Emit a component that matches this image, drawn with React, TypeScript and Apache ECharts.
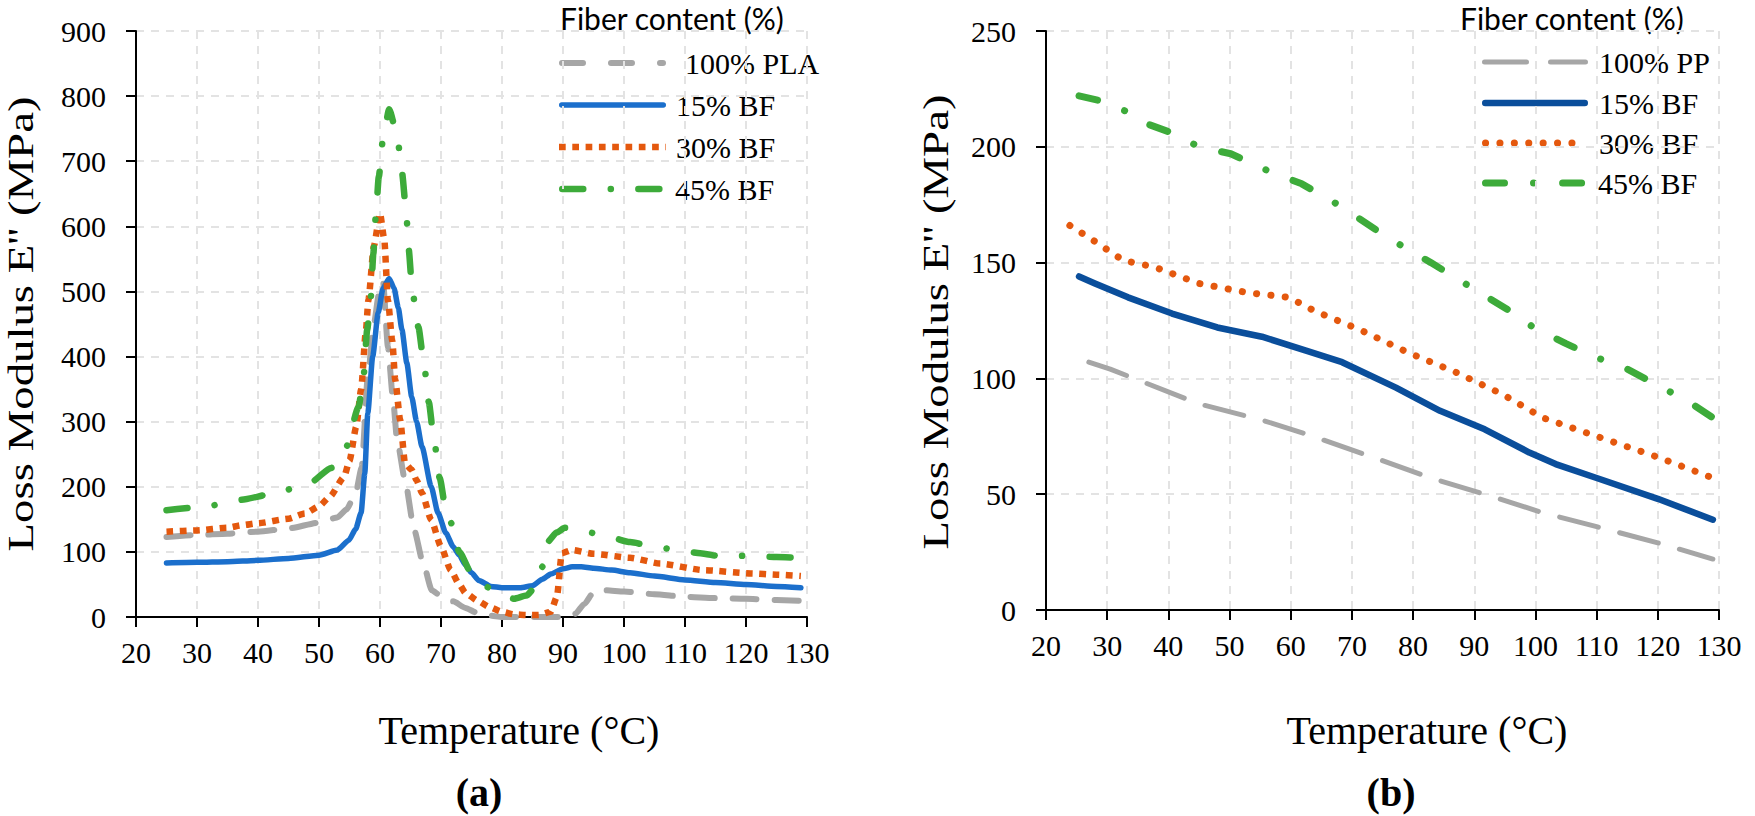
import React, { useEffect, useRef } from "react";
import * as echarts from "echarts";

// ---------- Chart (a): PLA composites ----------
const A_PLA_T = [25, 30, 35, 40, 45, 50, 53, 54.5, 56, 57, 58, 59, 59.8, 60.5, 61.3, 62.1, 62.8, 64.1, 65.6, 67, 68.5, 70, 72, 74, 76, 78, 80, 83, 86, 89, 90.5, 92, 93.5, 95, 97, 100, 105, 110, 115, 120, 125, 129];
const A_PLA_E = [123, 126, 128, 131, 136, 145, 153, 165, 190, 230, 369, 450, 495, 515, 415, 338, 272, 210, 134, 85, 41, 32, 24, 14, 6, 2, 0, 0, 0, 0, 0, 5, 20, 38, 41, 39, 35, 31, 29, 28, 26, 25];

const A_BF15_T = [25, 30, 35, 40, 45, 50, 53, 54.9, 56, 56.9, 57.5, 58, 58.8, 59.7, 60.5, 61.5, 62.3, 63, 63.6, 64.4, 65.2, 66, 66.9, 68.4, 69.5, 70.8, 72, 73, 74, 75, 76.2, 78.2, 80, 83, 85, 86.6, 88, 90, 91.5, 93, 95, 98, 101, 105, 110, 115, 120, 125, 129];
const A_BF15_E = [83, 84, 85, 87, 90, 95, 103, 118, 135, 160, 220, 313, 400, 467, 505, 520, 505, 475, 441, 390, 338, 300, 261, 200, 160, 129, 108, 95, 80, 68, 56, 47, 45, 45, 48, 58, 66, 74, 77, 77, 75, 72, 68, 63, 57, 53, 50, 47, 45];

const A_BF30_T = [25, 30, 35, 37.4, 40, 45, 47.7, 50, 51.8, 54.1, 55, 56.1, 56.9, 57.7, 58.1, 59, 60, 60.7, 61.3, 62, 62.5, 63.3, 64.1, 65.2, 66, 66.9, 68.4, 70, 71.6, 73, 74, 76, 78, 80, 82, 84, 86, 88, 89, 89.8, 91.5, 95, 101, 106, 113, 120.8, 125, 129];
const A_BF30_E = [131, 133, 137, 141, 144, 151, 159, 170, 185, 215, 240, 292, 349, 441, 487, 570, 620, 580, 487, 425, 364, 303, 236, 226, 210, 190, 149, 108, 72, 50, 37, 25, 15, 8, 4, 3, 3, 8, 31, 98, 103, 97, 91, 82, 72, 67, 65, 63];

const A_BF45_T = [25, 31, 37.2, 42.8, 48.5, 52, 54.4, 56.5, 57.3, 57.9, 58.5, 58.9, 59.3, 59.8, 60.5, 61.5, 62.8, 63.6, 64.3, 64.7, 65.3, 66.3, 67.2, 68, 68.8, 69.8, 70.7, 71.6, 73, 75, 77.9, 79.5, 82, 84, 86, 86.6, 87.4, 89, 90.3, 93.8, 97.5, 101, 105, 108.7, 112.5, 116, 120, 125, 129];
const A_BF45_E = [164, 169, 180, 190, 206, 229, 260, 323, 369, 441, 492, 557, 615, 676, 735, 780, 741, 683, 622, 565, 500, 445, 390, 330, 276, 213, 170, 145, 100, 67, 45, 38, 28, 33, 52, 77, 115, 130, 137, 131, 123, 115, 108, 103, 98, 93, 94, 92, 91];

// ---------- Chart (b): PP composites ----------
const B_PP_T = [27, 30.5, 36.3, 45, 55.3, 62.5, 73.4, 82.9, 91.7, 101.2, 110, 120, 129];
const B_PP_E = [107, 104, 98, 89, 82, 76, 66, 57, 50, 42, 36, 29, 22];

const B_BF15_T = [25.4, 28, 33.4, 40.6, 48, 55.3, 62.5, 68.4, 77.2, 84.4, 91.7, 99, 103.3, 110, 120, 129];
const B_BF15_E = [144, 141, 135, 128, 122, 118, 112, 107, 96, 86, 78, 68, 63, 57, 48, 39];

const B_BF30_T = [23.9, 27.5, 32.6, 37.8, 45, 53, 59.7, 64, 71.3, 79.3, 86.7, 94.7, 101.2, 110, 120, 129];
const B_BF30_E = [166, 160, 151, 148, 141, 137, 135, 129, 121, 111, 103, 93, 83, 75, 66, 57];

const B_BF45_T = [25.4, 28.7, 33.4, 36.4, 40.6, 45, 50.2, 56, 61.8, 68.4, 75.7, 82.9, 90.3, 95.3, 99.7, 105, 110, 115, 120, 125, 129];
const B_BF45_E = [222, 220, 215, 210, 206, 200, 197, 190, 184, 174, 161, 150, 138, 130, 122, 115, 109, 104, 97, 90, 83];

const LEGEND_A = ["100% PLA", "15% BF", "30% BF", "45% BF"];
const LEGEND_B = ["100% PP", "15% BF", "30% BF", "45% BF"];
const LEGEND_TITLE = "Fiber content (%)";
const X_TITLE = "Temperature (°C)";
const Y_TITLE = "Loss Modulus E'' (MPa)";

const pairs = (t: number[], e: number[]) => t.map((v, i) => [v, e[i]]);

const SERIF = "Liberation Serif";
const GREY = "#a6a6a6";
const BLUE_A = "#1b6fcc";
const BLUE_B = "#0a4e9b";
const ORANGE = "#e4580e";
const GREEN = "#3dab3a";

// line styles of the plotted curves (chart a, chart b); legend dash = sample pattern
const STY_A = [
  { color: GREY, width: 6, type: [24, 18], legendDash: [21, 28], cap: "round" },
  { color: BLUE_A, width: 5.5, type: "solid", cap: "round" },
  { color: ORANGE, width: 6.5, type: [6.7, 6.6], legendDash: [6.7, 6.6], cap: "butt" },
  { color: GREEN, width: 6.5, type: [21, 27.5, 0.1, 27.5], legendDash: [21, 27.5, 0.1, 27.5], cap: "round" },
];
const STY_B = [
  { color: GREY, width: 5, type: [40, 22], legendDash: [42, 24], cap: "round" },
  { color: BLUE_B, width: 6.5, type: "solid", cap: "round" },
  { color: ORANGE, width: 7, type: [0.1, 14.3], legendDash: [0.1, 14.3], cap: "round" },
  { color: GREEN, width: 7, type: [19, 29, 0.1, 29], legendDash: [19, 29, 0.1, 29], cap: "round" },
];

const GRID_LINE = { color: "#e3e3e3", width: 2, type: [8, 7] };

function xAxis(gridIndex: number) {
  return {
    type: "value",
    gridIndex,
    min: 20,
    max: 130,
    interval: 10,
    axisLine: { show: true, onZero: false, lineStyle: { color: "#000", width: 2 } },
    axisTick: { show: true, length: 10, lineStyle: { color: "#000", width: 2 } },
    axisLabel: { color: "#000", fontFamily: SERIF, fontSize: 30, margin: 20 },
    splitLine: { show: true, lineStyle: GRID_LINE },
  };
}
function yAxis(gridIndex: number, max: number, interval: number) {
  return {
    type: "value",
    gridIndex,
    min: 0,
    max,
    interval,
    axisLine: { show: true, onZero: false, lineStyle: { color: "#000", width: 2 } },
    axisTick: { show: true, length: 10, lineStyle: { color: "#000", width: 2 } },
    axisLabel: { color: "#000", fontFamily: SERIF, fontSize: 30, margin: 30 },
    splitLine: { show: true, lineStyle: GRID_LINE },
  };
}

function lineSeries(name: string, idx: number, data: number[][], sty: any, smooth: number | boolean) {
  return {
    name,
    type: "line",
    xAxisIndex: idx,
    yAxisIndex: idx,
    data,
    showSymbol: false,
    symbol: "none",
    smooth,
    smoothMonotone: "x",
    lineStyle: { color: sty.color, width: sty.width, type: sty.type, cap: sty.cap, join: "round" },
    silent: true,
  };
}

function legendGraphics(
  labels: string[],
  styles: any[],
  titleX: number,
  lineX1: number,
  lineX2: number,
  textXs: number[],
  ys: number[]
) {
  const els: any[] = [
    {
      type: "text",
      x: titleX,
      y: 3,
      style: { text: LEGEND_TITLE, fontFamily: "Lato", fontSize: 30, fill: "#000", align: "left", verticalAlign: "top" },
    },
  ];
  labels.forEach((lab, i) => {
    const s = styles[i];
    const cap = s.cap;
    const inset = cap === "round" ? s.width / 2 : 0;
    els.push({
      type: "line",
      shape: { x1: lineX1 + inset, y1: ys[i], x2: lineX2 - inset, y2: ys[i] },
      style: {
        stroke: s.color,
        lineWidth: s.width,
        lineDash: s.type === "solid" ? null : s.legendDash,
        lineCap: cap,
      },
    });
    els.push({
      type: "text",
      x: textXs[i],
      y: ys[i],
      style: { text: lab, fontFamily: SERIF, fontSize: 30, fill: "#000", align: "left", verticalAlign: "middle" },
    });
  });
  return els;
}

export default function App() {
  const ref = useRef<HTMLDivElement>(null);
  useEffect(() => {
    document.body.style.margin = "0";
    const chart = echarts.init(ref.current as HTMLDivElement, undefined, { renderer: "svg" });
    const option: any = {
      animation: false,
      backgroundColor: "#ffffff",
      grid: [
        { left: 136, top: 31, width: 671, height: 586 },
        { left: 1046, top: 31, width: 673, height: 579 },
      ],
      xAxis: [xAxis(0), xAxis(1)],
      yAxis: [yAxis(0, 900, 100), yAxis(1, 250, 50)],
      series: [
        lineSeries("a-" + LEGEND_A[0], 0, pairs(A_PLA_T, A_PLA_E), STY_A[0], 0.2),
        lineSeries("a-" + LEGEND_A[1], 0, pairs(A_BF15_T, A_BF15_E), STY_A[1], 0.2),
        lineSeries("a-" + LEGEND_A[2], 0, pairs(A_BF30_T, A_BF30_E), STY_A[2], 0.2),
        lineSeries("a-" + LEGEND_A[3], 0, pairs(A_BF45_T, A_BF45_E), STY_A[3], 0.2),
        lineSeries("b-" + LEGEND_B[0], 1, pairs(B_PP_T, B_PP_E), STY_B[0], false),
        lineSeries("b-" + LEGEND_B[1], 1, pairs(B_BF15_T, B_BF15_E), STY_B[1], false),
        lineSeries("b-" + LEGEND_B[2], 1, pairs(B_BF30_T, B_BF30_E), STY_B[2], false),
        lineSeries("b-" + LEGEND_B[3], 1, pairs(B_BF45_T, B_BF45_E), STY_B[3], false),
      ],
      graphic: [
        // y-axis titles
        {
          type: "text",
          x: 21,
          y: 324,
          rotation: Math.PI / 2,
          scaleX: 1.3,
          style: { text: Y_TITLE, fontFamily: SERIF, fontSize: 36, fill: "#000", align: "center", verticalAlign: "middle" },
        },
        {
          type: "text",
          x: 936,
          y: 322,
          rotation: Math.PI / 2,
          scaleX: 1.3,
          style: { text: Y_TITLE, fontFamily: SERIF, fontSize: 36, fill: "#000", align: "center", verticalAlign: "middle" },
        },
        // x-axis titles
        {
          type: "text",
          x: 519,
          y: 730,
          style: { text: X_TITLE, fontFamily: SERIF, fontSize: 40, fill: "#000", align: "center", verticalAlign: "middle" },
        },
        {
          type: "text",
          x: 1427,
          y: 730,
          style: { text: X_TITLE, fontFamily: SERIF, fontSize: 40, fill: "#000", align: "center", verticalAlign: "middle" },
        },
        // panel labels
        {
          type: "text",
          x: 479,
          y: 792,
          style: { text: "(a)", fontFamily: SERIF, fontSize: 40, fontWeight: "bold", fill: "#000", align: "center", verticalAlign: "middle" },
        },
        {
          type: "text",
          x: 1391,
          y: 792,
          style: { text: "(b)", fontFamily: SERIF, fontSize: 40, fontWeight: "bold", fill: "#000", align: "center", verticalAlign: "middle" },
        },
        ...legendGraphics(LEGEND_A, STY_A, 560, 559, 666, [685, 676, 676, 675], [63, 105, 147, 189]),
        ...legendGraphics(LEGEND_B, STY_B, 1460, 1482, 1588, [1599, 1599, 1599, 1598], [62, 103, 143, 183]),
      ],
    };
    chart.setOption(option);
    return () => chart.dispose();
  }, []);
  return <div ref={ref} style={{ width: 1755, height: 816 }} />;
}
